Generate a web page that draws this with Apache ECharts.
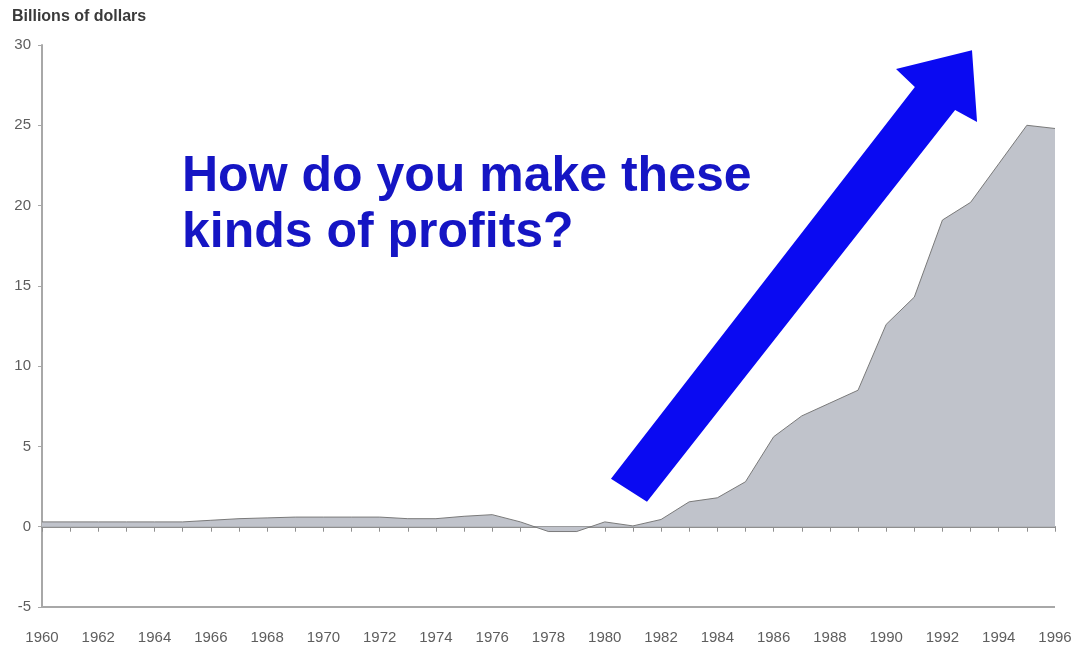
<!DOCTYPE html>
<html>
<head>
<meta charset="utf-8">
<script src="https://cdn.jsdelivr.net/npm/echarts@6/dist/echarts.min.js"></script>
<style>
html,body{margin:0;padding:0;background:#fff;}
#chart{width:1078px;height:653px;}
</style>
</head>
<body>
<div id="chart"></div>
<script>
// Years (x values) and profits (billions of dollars)
const years = [1960,1961,1962,1963,1964,1965,1966,1967,1968,1969,1970,1971,1972,1973,1974,1975,1976,1977,1978,1979,1980,1981,1982,1983,1984,1985,1986,1987,1988,1989,1990,1991,1992,1993,1994,1995,1996];
const profits = [0.3,0.3,0.3,0.3,0.3,0.3,0.4,0.5,0.55,0.6,0.6,0.6,0.6,0.5,0.5,0.65,0.75,0.3,-0.3,-0.3,0.3,0.05,0.45,1.55,1.8,2.8,5.6,6.9,7.7,8.5,12.6,14.3,19.1,20.2,22.6,25.0,24.8];
const yTicks = { min: -5, max: 30, interval: 5 };
const xTicks = { min: 1960, max: 1996, interval: 2 };
const yAxisTitle = 'Billions of dollars';
const annotationText = 'How do you make these\nkinds of profits?';
// Arrow outline in data coordinates [year, value]
const arrowPoints = [[1980.22,2.99],[1991.02,27.38],[1990.35,28.50],[1993.05,29.68],[1993.23,25.20],[1992.45,25.95],[1981.50,1.56]];

const chart = echarts.init(document.getElementById('chart'));
const font = 'Arial, "Liberation Sans", sans-serif';

const seriesData = years.map((y, i) => [y, profits[i]]);

chart.setOption({
  animation: false,
  backgroundColor: '#ffffff',
  grid: { left: 42, right: 23, top: 45, bottom: 46, containLabel: false, outerBoundsMode: 'none' },
  xAxis: {
    type: 'value',
    min: xTicks.min, max: xTicks.max, interval: xTicks.interval,
    axisLine: { show: true, onZero: true, lineStyle: { color: '#8f8f8f', width: 2 } },
    axisTick: { show: true, length: 5, lineStyle: { color: '#8f8f8f', width: 1 } },
    minorTick: { show: true, splitNumber: 2, length: 5, lineStyle: { color: '#8f8f8f', width: 1 } },
    axisLabel: { margin: 23, color: '#5e5e5e', fontSize: 15, fontFamily: font, formatter: v => String(v) },
    splitLine: { show: false }
  },
  yAxis: {
    type: 'value',
    min: yTicks.min, max: yTicks.max, interval: yTicks.interval,
    axisLine: { show: true, onZero: false, lineStyle: { color: '#a8a8a8', width: 2 } },
    axisTick: { show: true, length: 4, lineStyle: { color: '#a8a8a8' } },
    axisLabel: { margin: 11, color: '#5e5e5e', fontSize: 15, fontFamily: font },
    splitLine: { show: false }
  },
  series: [{
    type: 'line',
    data: seriesData,
    symbol: 'none',
    lineStyle: { color: '#7a7a7a', width: 1 },
    areaStyle: { color: '#c0c3cb', opacity: 1 },
    markLine: {
      silent: true, symbol: 'none', label: { show: false },
      lineStyle: { color: '#a8a8a8', width: 2, type: 'solid' },
      data: [{ yAxis: yTicks.min }]
    },
    z: 2
  }]
});

const arrowPx = arrowPoints.map(p => chart.convertToPixel({ gridIndex: 0 }, p));

chart.setOption({
  graphic: [
    {
      type: 'text', left: 12, top: 9,
      style: { text: yAxisTitle, fill: '#3a3a3a', font: 'bold 16px ' + font }
    },
    {
      type: 'text', left: 182, top: 149, z: 10,
      style: { text: annotationText, fill: '#1515c4', font: 'bold 50px ' + font, lineHeight: 56 }
    },
    {
      type: 'polygon', z: 10,
      shape: { points: arrowPx },
      style: { fill: '#0a0af2', stroke: null }
    }
  ]
});
</script>
</body>
</html>
